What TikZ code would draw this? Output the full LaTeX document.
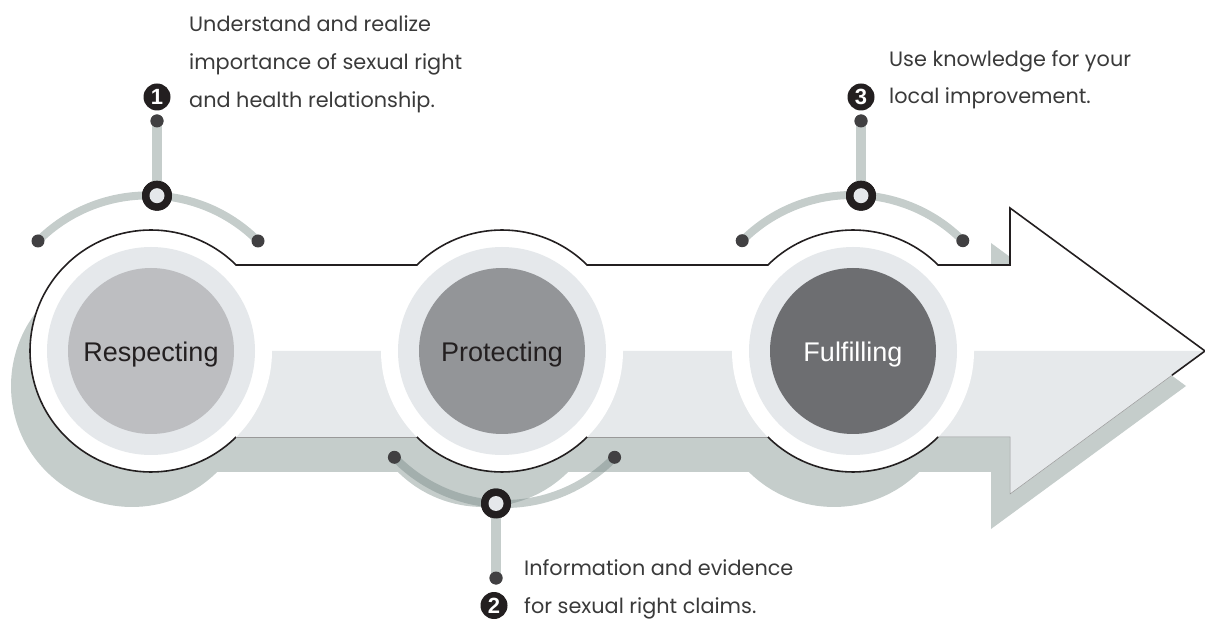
\documentclass[tikz,border=0pt]{standalone}
\usepackage{fontspec}
\newfontfamily\annfont{Poppins}
\newfontfamily\labfont{Liberation Sans}
\definecolor{shadowc}{HTML}{C5CDCB}
\definecolor{shadowdk}{HTML}{A3AFAD}
\definecolor{bandc}{HTML}{E6E9EB}
\definecolor{ringc}{HTML}{E5E8EB}
\definecolor{diskA}{HTML}{BDBEC1}
\definecolor{diskB}{HTML}{939598}
\definecolor{diskC}{HTML}{6D6E71}
\definecolor{inkc}{HTML}{231F20}
\definecolor{dotc}{HTML}{414042}
\definecolor{textc}{HTML}{3A3A3A}
\tikzset{
  outl/.style={draw=inkc, line width=1.6pt},
  thinedge/.style={draw=black!40, line width=0.5pt},
  ringnode/.style={circle, fill=ringc, minimum size=208pt, inner sep=0pt},
  disknode/.style={circle, minimum size=166pt, inner sep=0pt},
  whitenode/.style={circle, fill=white, minimum size=242pt, inner sep=0pt},
  lab/.style={anchor=base, font=\labfont\fontsize{27}{27}\selectfont, inner sep=0pt},
  conn/.style={draw=shadowc, line width=8pt},
  conndark/.style={draw=shadowdk, line width=8pt},
  stemline/.style={draw=shadowc, line width=10pt},
  enddot/.style={circle, fill=dotc, minimum size=13pt, inner sep=0pt},
  hubouter/.style={circle, fill=inkc, minimum size=30pt, inner sep=0pt},
  hubinner/.style={circle, fill=ringc, minimum size=15pt, inner sep=0pt},
  numdisc/.style={circle, fill=inkc, text=white, minimum size=27pt, inner sep=0pt, font=\labfont\bfseries\fontsize{22}{22}\selectfont},
  ann/.style={anchor=base west, inner sep=0pt, text=textc, font=\annfont\fontsize{20.8}{20.8}\selectfont}
}
\begin{document}
\begin{tikzpicture}[x=1pt,y=1pt]
\useasboundingbox (0,0) rectangle (1205,619);
\def\arrowpath{(236.1,182) arc[start angle=-45.3, end angle=-314.7, radius=121] -- (416.9,354) arc[start angle=134.7, end angle=45.3, radius=121] -- (767.9,354) arc[start angle=134.7, end angle=45.3, radius=121] -- (1010,354) -- (1010,411) -- (1205,268) -- (1010,125) -- (1010,182) -- (938.1,182) arc[start angle=-45.3, end angle=-134.7, radius=121] -- (587.1,182) arc[start angle=-45.3, end angle=-134.7, radius=121] -- cycle}
% shadow
\fill[shadowc, shift={(-19,-35)}] \arrowpath;
% white arrow
\fill[white] \arrowpath;
% light lower band
\fill[bandc] (151,268) -- (1205,268) -- (1010,125) -- (1010,182) -- (151,182) -- cycle;
% white circles
\node[whitenode] (w1) at (151,268) {};
\node[whitenode] (w2) at (502,268) {};
\node[whitenode] (w3) at (853,268) {};
% outlines
\draw[outl] (236.1,182) arc[start angle=-45.3, end angle=-314.7, radius=121] -- (416.9,354) arc[start angle=134.7, end angle=45.3, radius=121] -- (767.9,354) arc[start angle=134.7, end angle=45.3, radius=121] -- (1010,354) -- (1010,411) -- (1205,268) -- (1172,243.8);
\draw[thinedge] (1172,243.8) -- (1010,125) -- (1010,182) -- (938.1,182);
\draw[thinedge] (767.9,182) -- (587.1,182);
\draw[thinedge] (416.9,182) -- (236.1,182);
\draw[outl] (938.1,182) arc[start angle=-45.3, end angle=-134.7, radius=121];
\draw[outl] (587.1,182) arc[start angle=-45.3, end angle=-134.7, radius=121];
% rings and disks
\node[ringnode] (r1) at (w1.center) {};
\node[ringnode] (r2) at (w2.center) {};
\node[ringnode] (r3) at (w3.center) {};
\node[disknode, fill=diskA] (d1) at (w1.center) {};
\node[disknode, fill=diskB] (d2) at (w2.center) {};
\node[disknode, fill=diskC] (d3) at (w3.center) {};
\node[lab, text=inkc] (t1) at ([yshift=-11pt]d1.center) {Respecting};
\node[lab, text=inkc] (t2) at ([yshift=-11pt]d2.center) {Protecting};
\node[lab, text=white] (t3) at ([yshift=-11pt]d3.center) {Fulfilling};
% connector 1
\coordinate (a1s) at (38,378);
\coordinate (a1e) at (258,378);
\draw[conn] (a1s) arc[start angle=135, end angle=45, radius=155.6];
\node[hubouter] (h1) at (157,423.3) {};
\node[enddot] (e1) at (157,498) {};
\draw[stemline] (h1.center) -- (e1.center);
\node[enddot] (e1a) at (a1s) {};
\node[enddot] (e1b) at (a1e) {};
\node[hubouter] at (h1.center) {};
\node[hubinner] at (h1.center) {};
\node[enddot] at (e1.center) {};
\node[numdisc] (n1) at (157,522) {1};
% connector 3
\coordinate (a3s) at (742.2,378.3);
\coordinate (a3e) at (962.8,378.3);
\draw[conn] (a3s) arc[start angle=135, end angle=45, radius=156];
\node[hubouter] (h3) at (861,423.3) {};
\node[enddot] (e3) at (861,498) {};
\draw[stemline] (h3.center) -- (e3.center);
\node[enddot] (e3a) at (a3s) {};
\node[enddot] (e3b) at (a3e) {};
\node[hubouter] at (h3.center) {};
\node[hubinner] at (h3.center) {};
\node[enddot] at (e3.center) {};
\node[numdisc] (n3) at (861,522) {3};
% connector 2
\coordinate (a2s) at (394.4,161.7);
\coordinate (a2e) at (614.6,161.7);
\draw[conn] (a2s) arc[start angle=-136, end angle=-44, radius=153];
\begin{scope}
\clip[shift={(-19,-35)}] \arrowpath;
\draw[conndark] (a2s) arc[start angle=-136, end angle=-44, radius=153];
\end{scope}
\node[hubouter] (h2) at (496,115.5) {};
\node[enddot] (e2) at (496,41) {};
\draw[stemline] (h2.center) -- (e2.center);
\node[enddot] (e2a) at (a2s) {};
\node[enddot] (e2b) at (a2e) {};
\node[hubouter] at (h2.center) {};
\node[hubinner] at (h2.center) {};
\node[enddot] at (e2.center) {};
\node[numdisc] (n2) at (494,13.5) {2};
% annotations
\node[ann] (b1a) at (189,587) {Understand and realize};
\node[ann] (b1b) at (189,549) {importance of sexual right};
\node[ann] (b1c) at (189,511) {and health relationship.};
\node[ann] (b3a) at (889,552) {Use knowledge for your};
\node[ann] (b3b) at (889,515) {local improvement.};
\node[ann] (b2a) at (524,44) {Information and evidence};
\node[ann] (b2b) at (524,6) {for sexual right claims.};
\end{tikzpicture}
\end{document}
